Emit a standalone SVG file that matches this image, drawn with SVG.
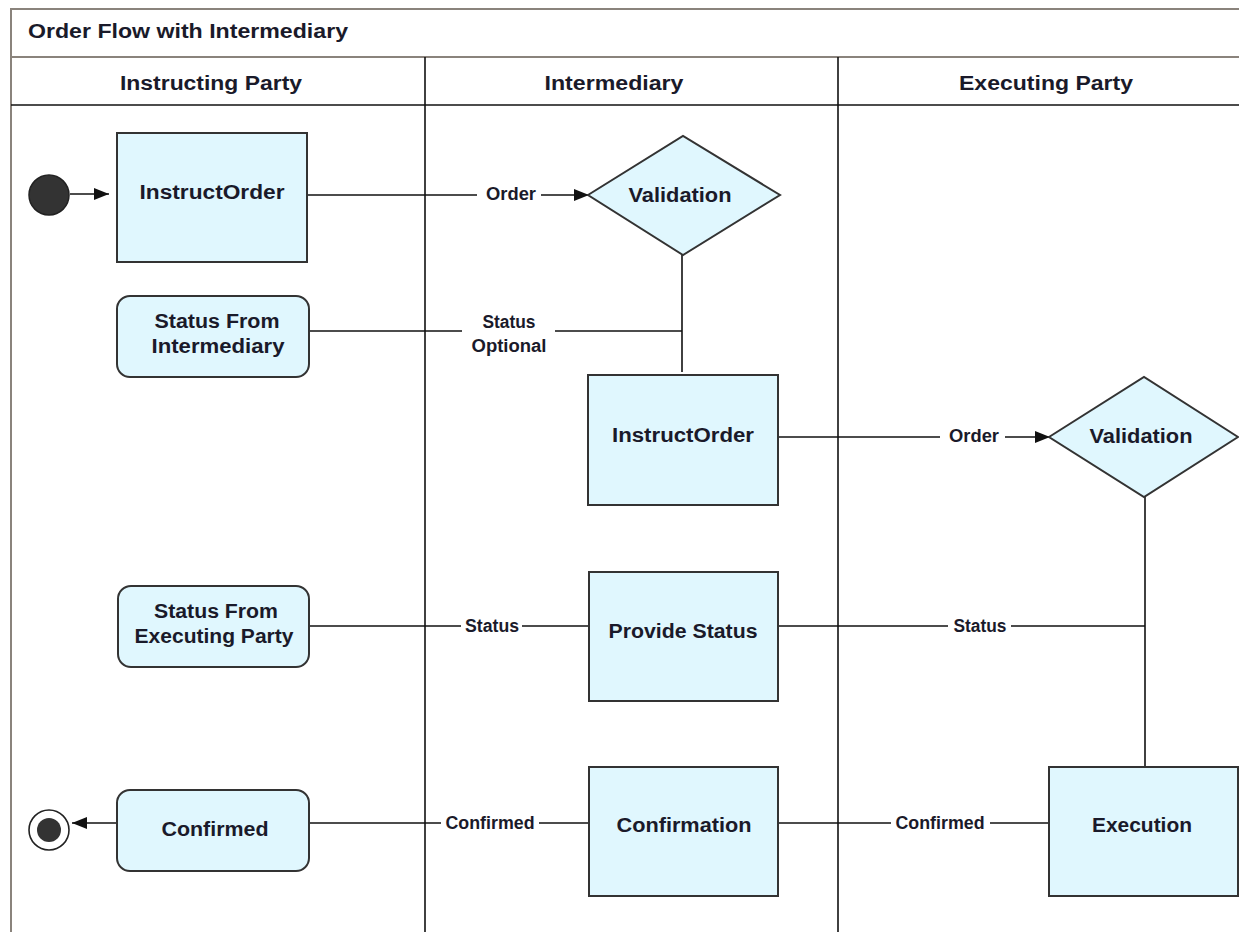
<svg xmlns="http://www.w3.org/2000/svg" width="1239" height="932" viewBox="0 0 1239 932">
<style>
  .frame{fill:none;stroke:#8a837c;stroke-width:2}
  .lane{stroke:#111;stroke-width:1.6;fill:none}
  .node{fill:#e0f7fe;stroke:#333;stroke-width:2}
  .conn{stroke:#111;stroke-width:1.6;fill:none}
  .t{font-family:"Liberation Sans",Arial,sans-serif;font-weight:bold;fill:#1a1a2a}
  .hd{font-size:20px;text-anchor:middle}
  .nt{font-size:20px;text-anchor:middle}
  .lb{font-size:18px;text-anchor:middle}
</style>
<defs>
  <marker id="arr" viewBox="0 0 15 12" refX="15" refY="6" markerWidth="15" markerHeight="12" markerUnits="userSpaceOnUse" orient="auto">
    <path d="M0,0 L15,6 L0,12 z" fill="#111"/>
  </marker>
</defs>
<rect x="0" y="0" width="1239" height="932" fill="#fff"/>

<g id="frame">
  <path class="frame" d="M11,932 V9 H1239"/>
  <line class="frame" x1="11" y1="57" x2="1239" y2="57"/>
  <text class="t" x="28" y="38" font-size="20" textLength="320" lengthAdjust="spacingAndGlyphs">Order Flow with Intermediary</text>
</g>

<g id="lanes">
  <line class="lane" x1="11" y1="105" x2="1239" y2="105"/>
  <line class="lane" x1="425" y1="57" x2="425" y2="932"/>
  <line class="lane" x1="838" y1="57" x2="838" y2="932"/>
  <text class="t hd" x="211" y="90" textLength="182" lengthAdjust="spacingAndGlyphs">Instructing Party</text>
  <text class="t hd" x="614" y="90" textLength="139" lengthAdjust="spacingAndGlyphs">Intermediary</text>
  <text class="t hd" x="1046" y="90" textLength="174" lengthAdjust="spacingAndGlyphs">Executing Party</text>
</g>

<g id="connectors">
  <line class="conn" x1="70" y1="194" x2="109" y2="194" marker-end="url(#arr)"/>
  <line class="conn" x1="307" y1="195" x2="477" y2="195"/>
  <line class="conn" x1="541" y1="195" x2="589" y2="195" marker-end="url(#arr)"/>
  <text class="t lb" x="511" y="200" textLength="50" lengthAdjust="spacingAndGlyphs">Order</text>

  <line class="conn" x1="682" y1="255" x2="682" y2="372"/>
  <line class="conn" x1="309" y1="331" x2="462" y2="331"/>
  <line class="conn" x1="555" y1="331" x2="682" y2="331"/>
  <text class="t lb" x="509" y="328" textLength="53" lengthAdjust="spacingAndGlyphs">Status</text>
  <text class="t lb" x="509" y="352" textLength="75" lengthAdjust="spacingAndGlyphs">Optional</text>

  <line class="conn" x1="778" y1="437" x2="940" y2="437"/>
  <line class="conn" x1="1005" y1="437" x2="1050" y2="437" marker-end="url(#arr)"/>
  <text class="t lb" x="974" y="442" textLength="50" lengthAdjust="spacingAndGlyphs">Order</text>

  <line class="conn" x1="1145" y1="497" x2="1145" y2="767"/>
  <line class="conn" x1="778" y1="626" x2="948" y2="626"/>
  <line class="conn" x1="1011" y1="626" x2="1145" y2="626"/>
  <text class="t lb" x="980" y="632" textLength="53" lengthAdjust="spacingAndGlyphs">Status</text>

  <line class="conn" x1="309" y1="626" x2="461" y2="626"/>
  <line class="conn" x1="522" y1="626" x2="589" y2="626"/>
  <text class="t lb" x="492" y="632" textLength="54" lengthAdjust="spacingAndGlyphs">Status</text>

  <line class="conn" x1="309" y1="823" x2="441" y2="823"/>
  <line class="conn" x1="539" y1="823" x2="589" y2="823"/>
  <text class="t lb" x="490" y="829" textLength="89" lengthAdjust="spacingAndGlyphs">Confirmed</text>

  <line class="conn" x1="779" y1="823" x2="891" y2="823"/>
  <line class="conn" x1="990" y1="823" x2="1049" y2="823"/>
  <text class="t lb" x="940" y="829" textLength="89" lengthAdjust="spacingAndGlyphs">Confirmed</text>

  <line class="conn" x1="117" y1="823" x2="72" y2="823" marker-end="url(#arr)"/>
</g>

<g id="start">
  <circle cx="49" cy="195" r="20" fill="#333" stroke="#222" stroke-width="1.5"/>
</g>

<g id="instructorder1">
  <rect class="node" x="117" y="133" width="190" height="129"/>
  <text class="t nt" x="212" y="199" textLength="145" lengthAdjust="spacingAndGlyphs">InstructOrder</text>
</g>

<g id="validation1">
  <polygon class="node" points="588,195 683,136 780,195 683,255"/>
  <text class="t nt" x="680" y="202" textLength="103" lengthAdjust="spacingAndGlyphs">Validation</text>
</g>

<g id="status-from-intermediary">
  <rect class="node" x="117" y="296" width="192" height="81" rx="13" ry="13"/>
  <text class="t nt" x="217" y="328" textLength="125" lengthAdjust="spacingAndGlyphs">Status From</text>
  <text class="t nt" x="218" y="353" textLength="133" lengthAdjust="spacingAndGlyphs">Intermediary</text>
</g>

<g id="instructorder2">
  <rect class="node" x="588" y="375" width="190" height="130"/>
  <text class="t nt" x="683" y="442" textLength="142" lengthAdjust="spacingAndGlyphs">InstructOrder</text>
</g>

<g id="validation2">
  <polygon class="node" points="1049,437 1144,377 1238,437 1144,497"/>
  <text class="t nt" x="1141" y="443" textLength="103" lengthAdjust="spacingAndGlyphs">Validation</text>
</g>

<g id="status-from-executing-party">
  <rect class="node" x="118" y="586" width="191" height="81" rx="13" ry="13"/>
  <text class="t nt" x="216" y="618" textLength="124" lengthAdjust="spacingAndGlyphs">Status From</text>
  <text class="t nt" x="214" y="643" textLength="159" lengthAdjust="spacingAndGlyphs">Executing Party</text>
</g>

<g id="provide-status">
  <rect class="node" x="589" y="572" width="189" height="129"/>
  <text class="t nt" x="683" y="638" textLength="149" lengthAdjust="spacingAndGlyphs">Provide Status</text>
</g>

<g id="confirmed">
  <rect class="node" x="117" y="790" width="192" height="81" rx="13" ry="13"/>
  <text class="t nt" x="215" y="836" textLength="107" lengthAdjust="spacingAndGlyphs">Confirmed</text>
</g>

<g id="confirmation">
  <rect class="node" x="589" y="767" width="189" height="129"/>
  <text class="t nt" x="684" y="832" textLength="135" lengthAdjust="spacingAndGlyphs">Confirmation</text>
</g>

<g id="execution">
  <rect class="node" x="1049" y="767" width="189" height="129"/>
  <text class="t nt" x="1142" y="832" textLength="100" lengthAdjust="spacingAndGlyphs">Execution</text>
</g>

<g id="final">
  <circle cx="49" cy="830" r="20" fill="#fff" stroke="#222" stroke-width="1.6"/>
  <circle cx="49" cy="830" r="12" fill="#333"/>
</g>
</svg>
